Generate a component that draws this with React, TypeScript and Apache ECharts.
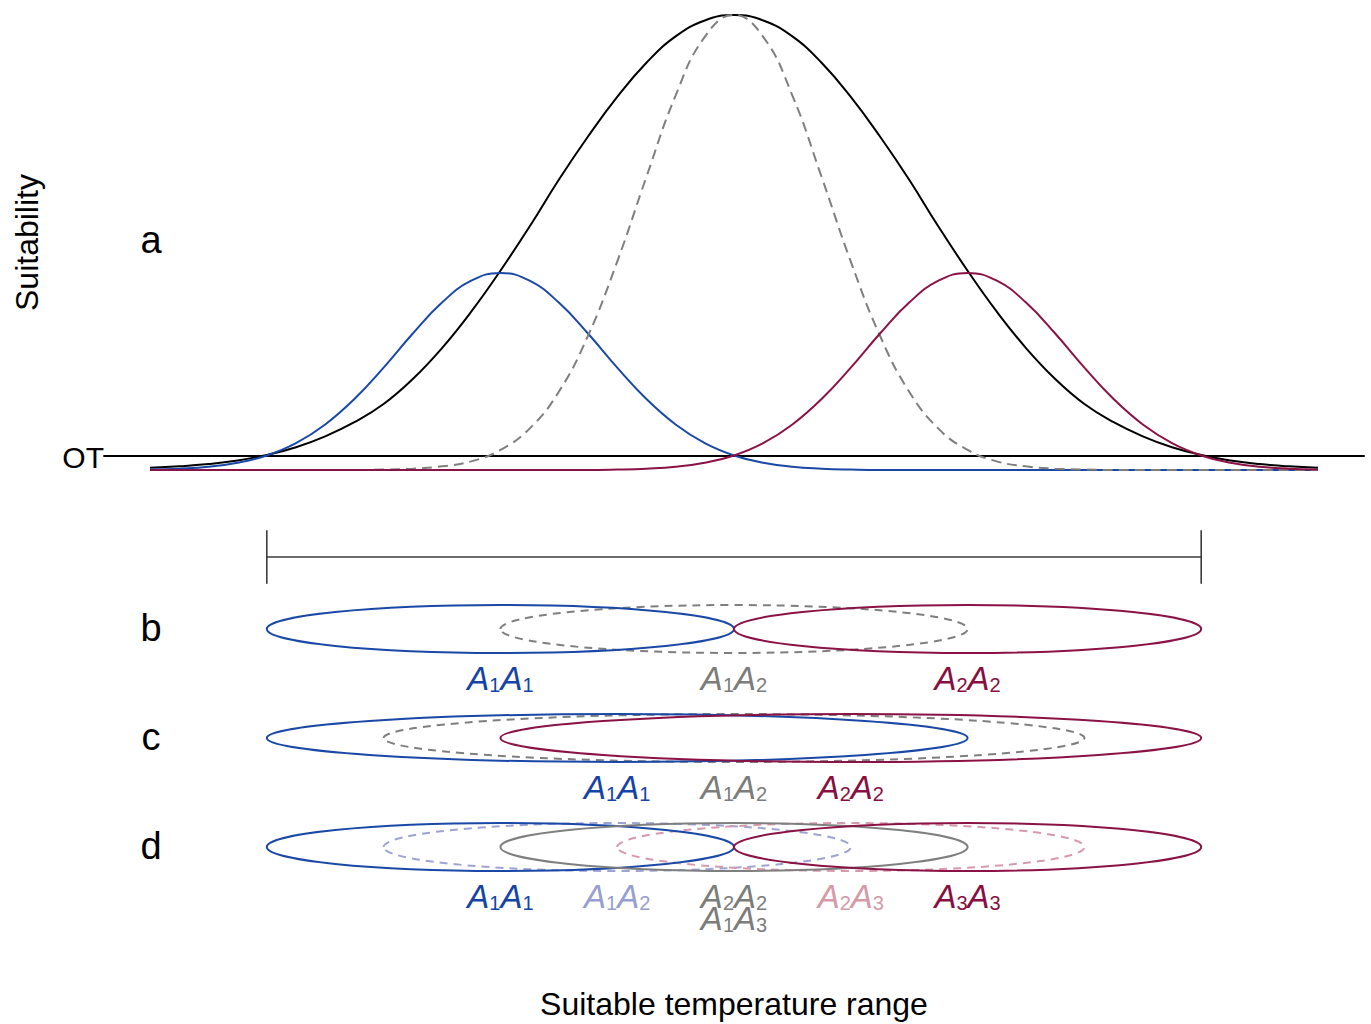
import React, { useEffect, useRef } from "react";
import * as echarts from "echarts";

const FONT = '"Liberation Sans", Arial, Helvetica, sans-serif';

// ---------- Panel a: suitability curves (temperature in arbitrary units 0-100) ----------
const temperature = [0, 2.5, 5, 7.5, 10, 12.5, 15, 17.5, 20, 22.5, 25, 27.5, 30, 32.5, 35, 37.5, 40, 42.5, 45, 47.5, 50,
  52.5, 55, 57.5, 60, 62.5, 65, 67.5, 70, 72.5, 75, 77.5, 80, 82.5, 85, 87.5, 90, 92.5, 95, 97.5, 100];
const suitTotal = [0.005, 0.008, 0.013, 0.021, 0.033, 0.05, 0.074, 0.105, 0.145, 0.2, 0.268, 0.348, 0.438, 0.535, 0.638, 0.733, 0.82, 0.895, 0.953, 0.988, 1.0,
  0.988, 0.953, 0.895, 0.82, 0.733, 0.638, 0.535, 0.438, 0.348, 0.268, 0.2, 0.145, 0.105, 0.074, 0.05, 0.033, 0.021, 0.013, 0.008, 0.005];
const suitA1A1 = [0.001, 0.003, 0.007, 0.016, 0.032, 0.059, 0.1, 0.156, 0.225, 0.3, 0.368, 0.416, 0.433, 0.416, 0.368, 0.3, 0.225, 0.156, 0.1, 0.059, 0.032,
  0.016, 0.007, 0.003, 0.001, 0, 0, 0, 0, 0, 0, 0, 0, 0, 0, 0, 0, 0, 0, 0, 0];
const suitA2A2 = [0, 0, 0, 0, 0, 0, 0, 0, 0, 0, 0, 0, 0, 0, 0, 0, 0.001, 0.003, 0.007, 0.016, 0.032,
  0.059, 0.1, 0.156, 0.225, 0.3, 0.368, 0.416, 0.433, 0.416, 0.368, 0.3, 0.225, 0.156, 0.1, 0.059, 0.032, 0.016, 0.007, 0.003, 0.001];
const suitA1A2 = [0, 0, 0, 0, 0, 0, 0, 0, 0.001, 0.003, 0.008, 0.019, 0.044, 0.091, 0.172, 0.295, 0.458, 0.644, 0.823, 0.952, 1.0,
  0.952, 0.823, 0.644, 0.458, 0.295, 0.172, 0.091, 0.044, 0.019, 0.008, 0.003, 0.001, 0, 0, 0, 0, 0, 0, 0, 0];
const otLevel = 0.031;
const otSpan = [-4, 104];

// ---------- Panels b-d: tolerance ranges ----------
const rangeBar = [10, 90];
const rangeBarRow = 3.66;
const rowB = 3;
const rowC = 2;
const rowD = 1;
const panelBGenotypes = ["A1A1", "A1A2", "A2A2"];
const panelBStart = [10, 30, 50];
const panelBEnd = [50, 70, 90];
const panelCGenotypes = ["A1A1", "A1A2", "A2A2"];
const panelCStart = [10, 20, 30];
const panelCEnd = [70, 80, 90];
const panelDGenotypes = ["A1A1", "A1A2", "A2A2", "A2A3", "A3A3"];
const panelDStart = [10, 20, 30, 40, 50];
const panelDEnd = [50, 60, 70, 80, 90];
const panelDExtraLabel = "A1A3"; // shares the A2A2 range

// ---------- styles ----------
const BLUE = "#1a48a6";
const RED = "#8a1244";
const GREY = "#7f7f7f";
const LBLUE = "#9ea3d3";
const LRED = "#d69aac";

type St = { color: string; dash: boolean; text: string };
const stylesBC: Record<string, St> = {
  A1A1: { color: BLUE, dash: false, text: "#1544a6" },
  A1A2: { color: GREY, dash: true, text: "#7c7c7c" },
  A2A2: { color: RED, dash: false, text: "#870f42" },
};
const stylesD: Record<string, St> = {
  A1A1: { color: BLUE, dash: false, text: "#1544a6" },
  A1A2: { color: LBLUE, dash: true, text: "#979fd0" },
  A2A2: { color: GREY, dash: false, text: "#7c7c7c" },
  A1A3: { color: GREY, dash: false, text: "#7c7c7c" },
  A2A3: { color: LRED, dash: true, text: "#d59aa8" },
  A3A3: { color: RED, dash: false, text: "#870f42" },
};

const ELLIPSE_RY = 0.22;
const LABEL_OFFSET = 0.45;
const LABEL_OFFSET2 = 0.655;
const BAR_TICK = 0.245;
const A_SIZE = 33;
const SUB_SIZE = 20;
const A_W = A_SIZE * 0.667;
const SUB_W = SUB_SIZE * 0.556;
const SUB_DROP = 7;

function ellipseSeries(start: number, end: number, row: number, st: St) {
  return {
    type: "custom",
    xAxisIndex: 1,
    yAxisIndex: 1,
    z: st.dash ? 2 : 3,
    silent: true,
    data: [[start, end, row]],
    renderItem: (_p: any, api: any) => {
      const a = api.coord([api.value(0), api.value(2)]);
      const b = api.coord([api.value(1), api.value(2)]);
      const t = api.coord([api.value(0), api.value(2) + ELLIPSE_RY]);
      return {
        type: "ellipse",
        shape: { cx: (a[0] + b[0]) / 2, cy: a[1], rx: (b[0] - a[0]) / 2, ry: a[1] - t[1] },
        style: { fill: "none", stroke: st.color, lineWidth: 2, lineDash: st.dash ? [8, 6] : null },
      };
    },
  };
}

function labelSeries(genotypes: string[], starts: number[], ends: number[], row: number, styles: Record<string, St>, offset: number) {
  return {
    type: "custom",
    xAxisIndex: 1,
    yAxisIndex: 1,
    silent: true,
    z: 10,
    data: genotypes.map((g, i) => [(starts[i] + ends[i]) / 2, row - offset, i]),
    renderItem: (_p: any, api: any) => {
      const g = genotypes[api.value(2)];
      const p = api.coord([api.value(0), api.value(1)]);
      const color = styles[g].text;
      let x = p[0] - (A_W + SUB_W);
      const children: any[] = [];
      for (const k of [0, 2]) {
        children.push({
          type: "text",
          style: { text: "A", x, y: p[1], fill: color, font: `italic ${A_SIZE}px ${FONT}`, align: "left", verticalAlign: "middle" },
        });
        x += A_W;
        children.push({
          type: "text",
          style: { text: g[k + 1], x, y: p[1] + SUB_DROP, fill: color, font: `${SUB_SIZE}px ${FONT}`, align: "left", verticalAlign: "middle" },
        });
        x += SUB_W;
      }
      return { type: "group", children };
    },
  };
}

function panelSeries(genotypes: string[], starts: number[], ends: number[], row: number, styles: Record<string, St>) {
  return genotypes.map((g, i) => ellipseSeries(starts[i], ends[i], row, styles[g]));
}

function curve(values: number[], color: string, z: number, dashed = false) {
  return {
    type: "line",
    xAxisIndex: 0,
    yAxisIndex: 0,
    data: temperature.map((x, i) => [x, values[i]]),
    smooth: 0.45,
    showSymbol: false,
    symbol: "none",
    silent: true,
    z,
    lineStyle: { color, width: 2, type: dashed ? [10, 6] : "solid" },
  };
}

const hiddenAxis = {
  axisLine: { show: false },
  axisTick: { show: false },
  axisLabel: { show: false },
  splitLine: { show: false },
};

export default function App() {
  const ref = useRef<HTMLDivElement>(null);
  useEffect(() => {
    if (!ref.current) return;
    const chart = echarts.init(ref.current, undefined, { renderer: "svg" });
    const unit = 11.68;
    const gridLeft = 150 - 4 * unit;
    const gridWidth = 108 * unit;
    const option: any = {
      animation: false,
      backgroundColor: "#ffffff",
      grid: [
        { left: gridLeft, width: gridWidth, top: 15, height: 455 },
        { left: gridLeft, width: gridWidth, top: 520, height: 436 },
      ],
      xAxis: [
        { type: "value", gridIndex: 0, min: -4, max: 104, ...hiddenAxis },
        {
          type: "value", gridIndex: 1, min: -4, max: 104, ...hiddenAxis,
          name: "Suitable temperature range", nameLocation: "middle", nameGap: 32,
          nameTextStyle: { fontFamily: FONT, fontSize: 32, color: "#000" },
        },
      ],
      yAxis: [
        {
          type: "value", gridIndex: 0, min: 0, max: 1, ...hiddenAxis,
          name: "Suitability", nameLocation: "middle", nameRotate: 90, nameGap: 60,
          nameTextStyle: { fontFamily: FONT, fontSize: 32, color: "#000" },
        },
        { type: "value", gridIndex: 1, min: 0, max: 4, ...hiddenAxis },
      ],
      series: [
        {
          type: "line",
          xAxisIndex: 0,
          yAxisIndex: 0,
          data: [[otSpan[0], otLevel], [otSpan[1], otLevel]],
          showSymbol: false,
          symbol: "none",
          silent: true,
          z: 1,
          lineStyle: { color: "#000", width: 2 },
        },
        curve(suitTotal, "#000000", 2),
        curve(suitA1A1, BLUE, 3),
        curve(suitA1A2, GREY, 4, true),
        curve(suitA2A2, RED, 5),
        {
          type: "custom",
          xAxisIndex: 1,
          yAxisIndex: 1,
          silent: true,
          data: [[rangeBar[0], rangeBar[1], rangeBarRow]],
          renderItem: (_p: any, api: any) => {
            const r = api.value(2);
            const a = api.coord([api.value(0), r]);
            const b = api.coord([api.value(1), r]);
            const top = api.coord([api.value(0), r + BAR_TICK]);
            const bot = api.coord([api.value(0), r - BAR_TICK]);
            const st = { stroke: "#3c3c3c", lineWidth: 1.6 };
            return {
              type: "group",
              children: [
                { type: "line", shape: { x1: a[0], y1: a[1], x2: b[0], y2: b[1] }, style: st },
                { type: "line", shape: { x1: a[0], y1: top[1], x2: a[0], y2: bot[1] }, style: st },
                { type: "line", shape: { x1: b[0], y1: top[1], x2: b[0], y2: bot[1] }, style: st },
              ],
            };
          },
        },
        ...panelSeries(panelBGenotypes, panelBStart, panelBEnd, rowB, stylesBC),
        ...panelSeries(panelCGenotypes, panelCStart, panelCEnd, rowC, stylesBC),
        ...panelSeries(panelDGenotypes, panelDStart, panelDEnd, rowD, stylesD),
        labelSeries(panelBGenotypes, panelBStart, panelBEnd, rowB, stylesBC, LABEL_OFFSET),
        labelSeries(panelCGenotypes, panelCStart, panelCEnd, rowC, stylesBC, LABEL_OFFSET),
        labelSeries(panelDGenotypes, panelDStart, panelDEnd, rowD, stylesD, LABEL_OFFSET),
        labelSeries([panelDExtraLabel], [panelDStart[2]], [panelDEnd[2]], rowD, stylesD, LABEL_OFFSET2),
      ],
      graphic: [
        { type: "text", x: 151, y: 240, style: { text: "a", fontSize: 38, fontFamily: FONT, fill: "#000", align: "center", verticalAlign: "middle" } },
        { type: "text", x: 151, y: 628, style: { text: "b", fontSize: 38, fontFamily: FONT, fill: "#000", align: "center", verticalAlign: "middle" } },
        { type: "text", x: 151, y: 737, style: { text: "c", fontSize: 38, fontFamily: FONT, fill: "#000", align: "center", verticalAlign: "middle" } },
        { type: "text", x: 151, y: 846, style: { text: "d", fontSize: 38, fontFamily: FONT, fill: "#000", align: "center", verticalAlign: "middle" } },
        { type: "text", x: 104, y: 457, style: { text: "OT", fontSize: 30, fontFamily: FONT, fill: "#000", align: "right", verticalAlign: "middle" } },
      ],
    };
    chart.setOption(option);
    return () => chart.dispose();
  }, []);
  return (
    <div
      ref={ref}
      style={{ position: "absolute", left: 0, top: 0, width: 1371, height: 1024, background: "#fff" }}
    />
  );
}
